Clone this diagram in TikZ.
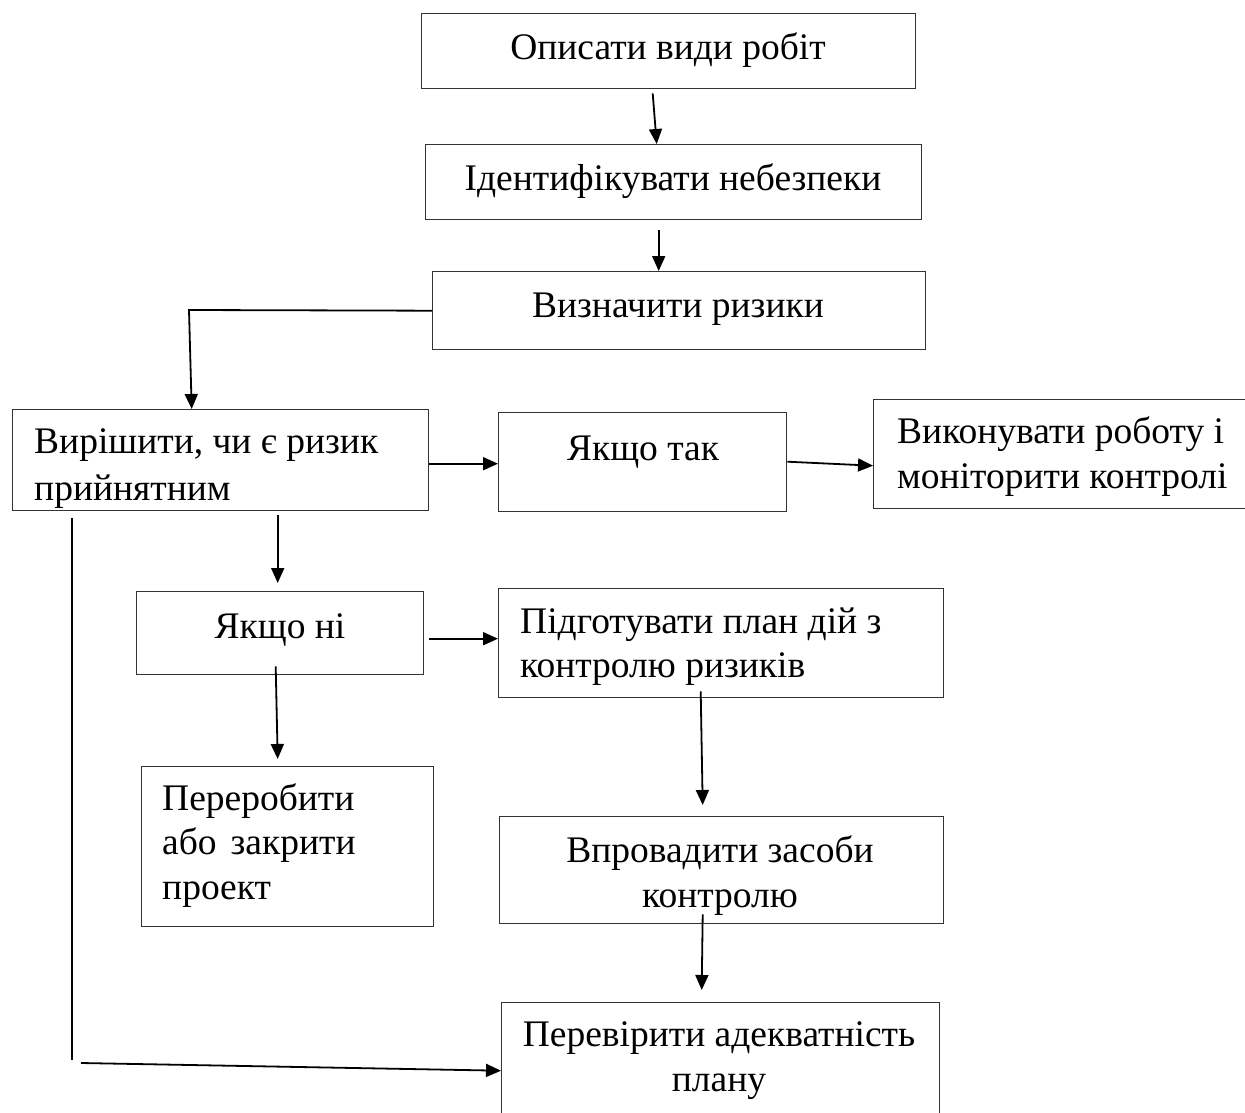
\documentclass[tikz,border=0pt]{standalone}
\usepackage{fontspec}
\setmainfont{Liberation Serif}
\usetikzlibrary{arrows.meta}
\begin{document}
\begin{tikzpicture}[x=1pt,y=-1pt,
  box/.style={draw=black!80, line width=1.4pt, inner sep=0pt, anchor=north west},
  arr/.style={draw=black, line width=1.8pt, -{Triangle[length=15pt,width=13pt]}},
  ln/.style={draw=black, line width=1.6pt},
  tx/.style={font=\fontsize{37.5}{45}\selectfont, inner sep=0pt, text=black},
  txl/.style={tx, anchor=base west},
  txc/.style={tx, anchor=base}]
\useasboundingbox (0,0) rectangle (1245,1113);
\clip (0,0) rectangle (1245,1113);
\fill[white] (0,0) rectangle (1245,1113);

% boxes
\node[box, minimum width=494pt, minimum height=75pt] (b1) at (421,13) {};
\node[box, minimum width=496pt, minimum height=75pt] (b2) at (425,144) {};
\node[box, minimum width=493pt, minimum height=78pt] (b3) at (432,271) {};
\node[box, minimum width=416pt, minimum height=101pt] (b4) at (12,409) {};
\node[box, minimum width=288pt, minimum height=99pt] (yes) at (498,412) {};
\node[box, minimum width=400pt, minimum height=109pt] (do) at (873,399) {};
\node[box, minimum width=287pt, minimum height=83pt] (no) at (136,591) {};
\node[box, minimum width=445pt, minimum height=109pt] (plan) at (498,588) {};
\node[box, minimum width=292pt, minimum height=160pt] (redo) at (141,766) {};
\node[box, minimum width=444pt, minimum height=107pt] (impl) at (499,816) {};
\node[box, minimum width=438pt, minimum height=140pt] (check) at (501,1002) {};

% texts
\node[txc] (t1) at (668,60) {Описати види робіт};
\node[txc] (t2) at (673,190) {Ідентифікувати небезпеки};
\node[txc] (t3) at (678,317) {Визначити ризики};
\node[txl] (t4a) at (34,453) {Вирішити, чи є ризик};
\node[txl] (t4b) at (34,500) {прийнятним};
\node[txc] (tyes) at (643,460) {Якщо так};
\node[txl] (tdoa) at (897,443) {Виконувати роботу і};
\node[txl] (tdob) at (897,488) {моніторити контролі};
\node[txc] (tno) at (280,638) {Якщо ні};
\node[txl] (tplana) at (520,633) {Підготувати план дій з};
\node[txl] (tplanb) at (520,677) {контролю ризиків};
\node[txl] (tredoa) at (162,810) {Переробити};
\node[txl] (tredob) at (162,854) {або\hspace{14pt}закрити};
\node[txl] (tredoc) at (162,899) {проект};
\node[txc] (timpla) at (720,862) {Впровадити засоби};
\node[txc] (timplb) at (720,907) {контролю};
\node[txc] (tchecka) at (719,1046) {Перевірити адекватність};
\node[txc] (tcheckb) at (719,1091) {плану};

% connector helper points
\coordinate (c1) at (189,310);
\coordinate (c2) at (72,1060);
\coordinate (c3) at (81,1063);

% connectors
\draw[arr] ([xshift=-16pt,yshift=-4pt]b1.south) -- ([xshift=-17pt]b2.north);
\draw[arr] ([xshift=-15pt,yshift=-10pt]b2.south) -- ([xshift=-20.5pt]b3.north);
\draw[arr] (b3.west) -- (c1) -- ([xshift=-29pt]b4.north);
\draw[arr] ([yshift=-3.5pt]b4.east) -- ([yshift=-1.5pt]yes.west);
\draw[arr] ([yshift=0.5pt]yes.east) -- ([yshift=-11.5pt]do.west);
\draw[arr] ([xshift=57pt,yshift=-4pt]b4.south) -- ([xshift=-2.5pt,yshift=8pt]no.north);
\draw[arr] ([xshift=5pt,yshift=-5.5pt]no.east) -- ([yshift=4.5pt]plan.west);
\draw[arr] ([xshift=-4.5pt,yshift=9pt]no.south) -- ([xshift=-10pt,yshift=7pt]redo.north);
\draw[arr] ([xshift=-20.5pt,yshift=7pt]plan.south) -- ([xshift=-19pt,yshift=11pt]impl.north);
\draw[arr] ([xshift=-19pt,yshift=10pt]impl.south) -- ([xshift=-19pt,yshift=12pt]check.north);
\draw[ln] ([xshift=60pt,yshift=-7pt]b4.south west) -- (c2);
\draw[arr] (c3) -- ([yshift=2pt]check.west);
\end{tikzpicture}
\end{document}
